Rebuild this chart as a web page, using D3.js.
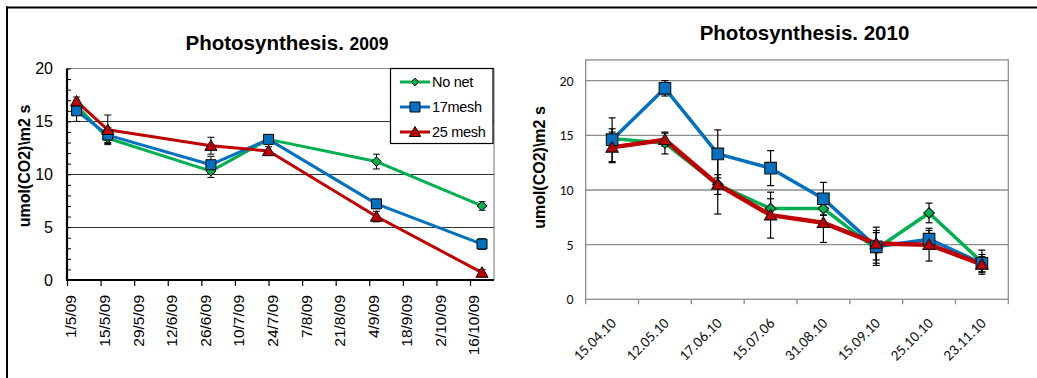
<!DOCTYPE html>
<html><head><meta charset="utf-8">
<script src="https://cdn.jsdelivr.net/npm/d3@7"></script>
<style>body{margin:0;background:#fff}svg{display:block}</style>
</head><body>
<svg id="chart" width="1037" height="378"></svg>
<script>
// ---- 2009 season (measurement dates on a time axis) ----
const dates2009 = ["2009-05-05", "2009-05-18", "2009-06-30", "2009-07-24", "2009-09-07", "2009-10-21"];
const ticks2009 = ["1/5/09", "15/5/09", "29/5/09", "12/6/09", "26/6/09", "10/7/09", "24/7/09",
                   "7/8/09", "21/8/09", "4/9/09", "18/9/09", "2/10/09", "16/10/09"];
const axisEnd2009 = "2009-10-26";
const noNet2009 = [16.5, 13.4, 10.3, 13.3, 11.2, 7.0];
const noNetErr2009 = [0.3, 0.5, 0.6, 0.4, 0.7, 0.4];
const mesh17_2009 = [16.0, 13.7, 10.9, 13.3, 7.2, 3.4];
const mesh17Err2009 = [1.0, 0.7, 0.8, 0.3, 0.4, 0.5];
const mesh25_2009 = [16.9, 14.2, 12.7, 12.2, 6.0, 0.7];
const mesh25Err2009 = [0.4, 1.4, 0.8, 0.4, 0.5, 0.3];

// ---- 2010 season (category axis) ----
const categories2010 = ["15.04.10", "12.05.10", "17.06.10", "15.07.06", "31.08.10", "15.09.10", "25.10.10", "23.11.10"];
const noNet2010 = [14.7, 14.3, 10.5, 8.3, 8.3, 4.6, 7.9, 3.4];
const noNetErr2010 = [0.9, 1.0, 0.9, 0.9, 0.6, 1.5, 0.9, 1.1];
const mesh17_2010 = [14.6, 19.3, 13.3, 12.0, 9.2, 4.8, 5.5, 3.3];
const mesh17Err2010 = [2.0, 0.7, 2.2, 1.6, 1.5, 1.5, 0.8, 0.8];
const mesh25_2010 = [13.9, 14.6, 10.5, 7.7, 7.0, 5.1, 5.0, 3.2];
const mesh25Err2010 = [1.4, 0.6, 2.7, 2.1, 1.8, 1.5, 1.5, 0.7];

const seriesNames = ["No net", "17mesh", "25 mesh"];
const majorTicks = [0, 5, 10, 15, 20];
const yTitle = "umol(CO2)\\m2 s";

const colors = ["#00B050", "#0070C0", "#C00000"];
const markerKind = ["diamond", "square", "triangle"];

const svg = d3.select("#chart");
const ARIAL = "Arial, 'Liberation Sans', sans-serif";
const CAL = "Carlito, Calibri, Lato, sans-serif";

function markerPath(kind, s) {
  if (kind === "diamond") return `M0,${-s}L${s},0L0,${s}L${-s},0Z`;
  if (kind === "square") return `M${-s},${-s}H${s}V${s}H${-s}Z`;
  return `M0,${-s * 1.05}L${s * 1.1},${s * 0.85}L${-s * 1.1},${s * 0.85}Z`;
}

// outer frame (top and left rules)
svg.append("line").attr("x1", 6).attr("x2", 1037).attr("y1", 7.5).attr("y2", 7.5)
  .attr("stroke", "#000").attr("stroke-width", 2);
svg.append("line").attr("x1", 7).attr("x2", 7).attr("y1", 6.5).attr("y2", 378)
  .attr("stroke", "#000").attr("stroke-width", 2);

// ================= 2009 chart =================
{
  const parse = d3.timeParse("%Y-%m-%d");
  const parseTick = d3.timeParse("%d/%m/%y");
  const xDates = dates2009.map(parse);
  const tickDates = ticks2009.map(parseTick);
  const L = 67, R = 494, T = 68.5, B = 280;
  const x = d3.scaleTime().domain([tickDates[0], parse(axisEnd2009)]).range([L, R]);
  const y = d3.scaleLinear().domain([0, 20]).range([B, T]);
  const g = svg.append("g");

  // plot frame (top and right) and gridlines
  g.append("path").attr("d", `M${L},${T}H${R}V${B}`).attr("fill", "none")
    .attr("stroke", "#8a8a8a").attr("stroke-width", 1.2);
  g.selectAll("line.grid").data([5, 10, 15]).join("line")
    .attr("x1", L).attr("x2", R).attr("y1", d => Math.round(y(d)) + 0.5).attr("y2", d => Math.round(y(d)) + 0.5)
    .attr("stroke", "#333").attr("stroke-width", 1);

  // minor ticks inside the value axis
  const yAxis = d3.axisLeft(y).tickValues(d3.range(0, 21)).tickSize(-4).tickFormat("");
  const ya = g.append("g").attr("transform", `translate(${L},0)`).call(yAxis);
  ya.select(".domain").remove();
  ya.selectAll(".tick line").attr("stroke", "#000");
  // value labels
  g.selectAll("text.ylab").data(majorTicks).join("text")
    .attr("x", 53).attr("y", d => y(d)).attr("dy", "0.35em")
    .attr("text-anchor", "end").attr("font-family", ARIAL).attr("font-size", 16).text(d => d);

  // date axis
  const xAxis = d3.axisBottom(x).tickValues(tickDates).tickSize(6).tickFormat("");
  const xa = g.append("g").attr("transform", `translate(0,${B})`).call(xAxis);
  xa.select(".domain").remove();
  xa.selectAll(".tick line").attr("stroke", "#000").attr("stroke-width", 1.2);
  g.selectAll("text.xlab").data(tickDates).join("text")
    .attr("transform", (d) => `translate(${x(d) + 4},295) rotate(-90)`)
    .attr("dy", "0.35em").attr("text-anchor", "end")
    .attr("font-family", ARIAL).attr("font-size", 15.5)
    .text((d, i) => ticks2009[i]);

  // axis lines
  g.append("line").attr("x1", L).attr("x2", L).attr("y1", T).attr("y2", B + 1)
    .attr("stroke", "#000").attr("stroke-width", 2.2);
  g.append("line").attr("x1", L - 1).attr("x2", R).attr("y1", B).attr("y2", B)
    .attr("stroke", "#000").attr("stroke-width", 2.2);

  const series = [
    { v: noNet2009, e: noNetErr2009 },
    { v: mesh17_2009, e: mesh17Err2009 },
    { v: mesh25_2009, e: mesh25Err2009 }
  ];
  const line = d3.line().x((d, i) => x(xDates[i])).y(d => y(d));
  series.forEach((s, k) => {
    g.append("path").attr("d", line(s.v)).attr("fill", "none")
      .attr("stroke", colors[k]).attr("stroke-width", 3).attr("stroke-linejoin", "round");
  });
  series.forEach((s, k) => {
    const eb = g.append("g").attr("stroke", "#000").attr("stroke-width", 1);
    s.v.forEach((v, i) => {
      const cx = x(xDates[i]), y1 = y(v + s.e[i]), y2 = y(Math.max(0, v - s.e[i]));
      eb.append("line").attr("x1", cx).attr("x2", cx).attr("y1", y1).attr("y2", y2);
      eb.append("line").attr("x1", cx - 3.5).attr("x2", cx + 3.5).attr("y1", y1).attr("y2", y1);
      eb.append("line").attr("x1", cx - 3.5).attr("x2", cx + 3.5).attr("y1", y2).attr("y2", y2);
    });
  });
  const msize = [4.8, 5, 5.5];
  series.forEach((s, k) => {
    g.selectAll(null).data(s.v).join("path")
      .attr("transform", (d, i) => `translate(${x(xDates[i])},${y(d)})`)
      .attr("d", markerPath(markerKind[k], msize[k]))
      .attr("fill", colors[k]).attr("stroke", "#000").attr("stroke-width", 1);
  });

  // legend
  const lg = g.append("g");
  lg.append("rect").attr("x", 390.5).attr("y", 68.5).attr("width", 102.5).attr("height", 75)
    .attr("fill", "#fff").attr("stroke", "#000").attr("stroke-width", 1.2);
  seriesNames.forEach((name, k) => {
    const yy = 82 + k * 25;
    lg.append("line").attr("x1", 400).attr("x2", 430).attr("y1", yy).attr("y2", yy)
      .attr("stroke", colors[k]).attr("stroke-width", 3);
    lg.append("path").attr("transform", `translate(415,${yy})`)
      .attr("d", markerPath(markerKind[k], [3.8, 5, 5.2][k]))
      .attr("fill", colors[k]).attr("stroke", "#000").attr("stroke-width", 1);
    lg.append("text").attr("x", 432).attr("y", yy + 5).attr("font-family", ARIAL)
      .attr("font-size", 14.5).attr("letter-spacing", -0.3).text(name);
  });

  // title and axis title
  const t = g.append("text").attr("x", 287).attr("y", 50).attr("text-anchor", "middle")
    .attr("font-family", ARIAL).attr("font-weight", "bold");
  t.append("tspan").attr("font-size", 20.5).text("Photosynthesis. ");
  t.append("tspan").attr("font-size", 17.5).text("2009");
  g.append("text").attr("transform", "translate(29.5,166) rotate(-90)")
    .attr("text-anchor", "middle").attr("font-family", ARIAL).attr("font-weight", "bold")
    .attr("font-size", 16).text(yTitle);
}

// ================= 2010 chart =================
{
  const L = 585.7, R = 1008.3, B = 299.3;
  const y = d3.scaleLinear().domain([0, 20]).range([B, 80.7]);
  const T = y(21.9);
  const x = d3.scaleBand().domain(categories2010).range([L, R]).padding(0);
  const cx = c => x(c) + x.bandwidth() / 2;
  const g = svg.append("g");

  g.selectAll("line.grid").data(majorTicks.slice(1)).join("line")
    .attr("x1", L).attr("x2", R).attr("y1", d => y(d)).attr("y2", d => y(d))
    .attr("stroke", "#8c8c8c").attr("stroke-width", 1.3);
  g.append("rect").attr("x", L).attr("y", T).attr("width", R - L).attr("height", B - T)
    .attr("fill", "none").attr("stroke", "#8c8c8c").attr("stroke-width", 1.3);

  // category tick marks at band edges
  const edges = categories2010.map(c => x(c)).concat([R]);
  g.selectAll("line.xt").data(edges).join("line")
    .attr("x1", d => d).attr("x2", d => d).attr("y1", B).attr("y2", B + 5)
    .attr("stroke", "#8c8c8c").attr("stroke-width", 1.3);

  const yAxis = d3.axisLeft(y).tickValues(majorTicks).tickSize(0).tickPadding(12);
  const ya = g.append("g").attr("transform", `translate(${L},0)`).call(yAxis);
  ya.select(".domain").remove();
  ya.selectAll("text").attr("font-family", CAL).attr("font-size", 14).attr("fill", "#111");

  g.selectAll("text.xlab").data(categories2010).join("text")
    .attr("transform", d => `translate(${cx(d) + 5},324) rotate(-45)`)
    .attr("text-anchor", "end").attr("font-family", CAL).attr("font-size", 15).attr("fill", "#111")
    .text(d => d);

  const series = [
    { v: noNet2010, e: noNetErr2010, w: 3.5 },
    { v: mesh17_2010, e: mesh17Err2010, w: 3.5 },
    { v: mesh25_2010, e: mesh25Err2010, w: 4.5 }
  ];
  const line = d3.line().x((d, i) => cx(categories2010[i])).y(d => y(d));
  series.forEach((s, k) => {
    g.append("path").attr("d", line(s.v)).attr("fill", "none")
      .attr("stroke", colors[k]).attr("stroke-width", s.w).attr("stroke-linejoin", "round");
  });
  series.forEach((s) => {
    const eb = g.append("g").attr("stroke", "#000").attr("stroke-width", 1.2);
    s.v.forEach((v, i) => {
      const px = cx(categories2010[i]), y1 = y(v + s.e[i]), y2 = y(v - s.e[i]);
      eb.append("line").attr("x1", px).attr("x2", px).attr("y1", y1).attr("y2", y2);
      eb.append("line").attr("x1", px - 3.5).attr("x2", px + 3.5).attr("y1", y1).attr("y2", y1);
      eb.append("line").attr("x1", px - 3.5).attr("x2", px + 3.5).attr("y1", y2).attr("y2", y2);
    });
  });
  const msize = [5.3, 5.8, 5.6];
  series.forEach((s, k) => {
    g.selectAll(null).data(s.v).join("path")
      .attr("transform", (d, i) => `translate(${cx(categories2010[i])},${y(d)})`)
      .attr("d", markerPath(markerKind[k], msize[k]))
      .attr("fill", colors[k]).attr("stroke", "#111").attr("stroke-width", 1.1);
  });

  g.append("text").attr("x", 804.5).attr("y", 40).attr("text-anchor", "middle")
    .attr("font-family", ARIAL).attr("font-weight", "bold").attr("font-size", 20.5)
    .text("Photosynthesis. 2010");
  g.append("text").attr("transform", "translate(545,167.5) rotate(-90)")
    .attr("text-anchor", "middle").attr("font-family", ARIAL).attr("font-weight", "bold")
    .attr("font-size", 16).text(yTitle);
}
</script>
</body></html>
